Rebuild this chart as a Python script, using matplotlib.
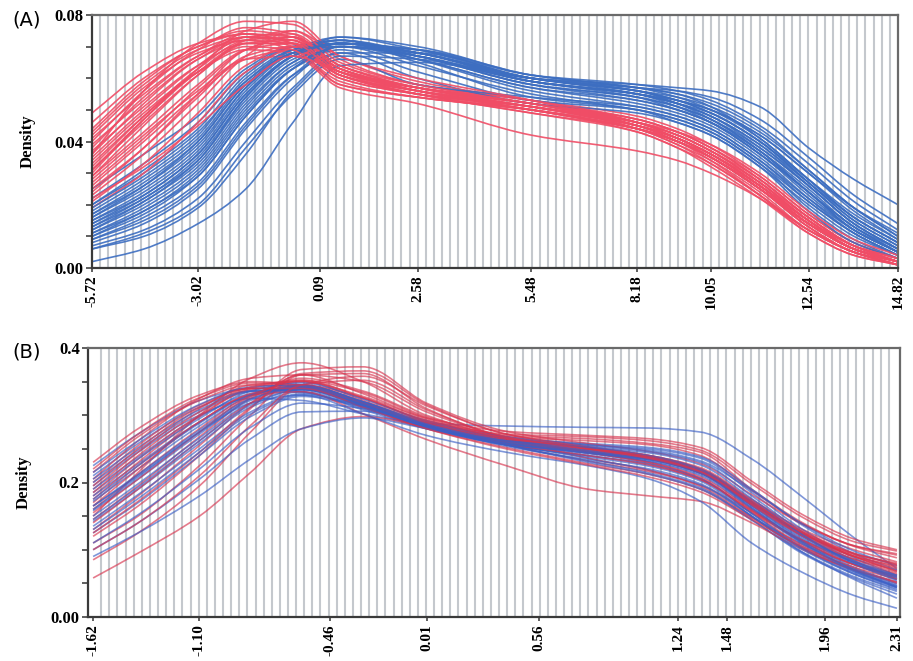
import numpy as np
import matplotlib
matplotlib.use("Agg")
import matplotlib.pyplot as plt
from matplotlib.path import Path
from matplotlib.patches import PathPatch
from matplotlib.ticker import FixedLocator

# ---- panel A data (density curves) ----
xA = [-5.72, -4.4, -3.02, -1.8, -0.6, 0.6, 2.58, 5.48, 8.18, 9.2, 10.05, 11.3, 12.54, 13.7, 14.82]

redA = [
    [0.036, 0.056, 0.071, 0.078, 0.077, 0.066, 0.058, 0.053, 0.046, 0.042, 0.037, 0.027, 0.015, 0.006, 0.002],
    [0.049, 0.062, 0.071, 0.074, 0.071, 0.061, 0.056, 0.052, 0.045, 0.041, 0.035, 0.025, 0.013, 0.005, 0.002],
    [0.046, 0.060, 0.070, 0.075, 0.073, 0.062, 0.057, 0.053, 0.046, 0.041, 0.036, 0.026, 0.014, 0.006, 0.002],
    [0.043, 0.058, 0.069, 0.073, 0.070, 0.060, 0.055, 0.051, 0.044, 0.039, 0.034, 0.024, 0.012, 0.005, 0.001],
    [0.041, 0.055, 0.067, 0.073, 0.072, 0.062, 0.057, 0.052, 0.047, 0.043, 0.038, 0.028, 0.016, 0.007, 0.003],
    [0.039, 0.053, 0.066, 0.072, 0.071, 0.061, 0.056, 0.051, 0.045, 0.041, 0.036, 0.026, 0.014, 0.006, 0.002],
    [0.037, 0.051, 0.064, 0.071, 0.071, 0.062, 0.057, 0.052, 0.046, 0.041, 0.036, 0.026, 0.014, 0.006, 0.002],
    [0.035, 0.050, 0.064, 0.073, 0.074, 0.064, 0.058, 0.053, 0.048, 0.044, 0.039, 0.029, 0.017, 0.008, 0.003],
    [0.033, 0.048, 0.062, 0.070, 0.069, 0.058, 0.054, 0.050, 0.044, 0.040, 0.035, 0.025, 0.013, 0.005, 0.002],
    [0.031, 0.046, 0.061, 0.071, 0.072, 0.062, 0.056, 0.051, 0.046, 0.042, 0.037, 0.028, 0.016, 0.007, 0.002],
    [0.029, 0.043, 0.058, 0.069, 0.071, 0.063, 0.057, 0.052, 0.047, 0.043, 0.038, 0.029, 0.017, 0.008, 0.003],
    [0.027, 0.041, 0.057, 0.069, 0.073, 0.064, 0.057, 0.051, 0.045, 0.041, 0.036, 0.026, 0.015, 0.006, 0.002],
    [0.025, 0.038, 0.054, 0.067, 0.070, 0.061, 0.055, 0.049, 0.043, 0.038, 0.033, 0.023, 0.012, 0.005, 0.001],
    [0.023, 0.036, 0.052, 0.067, 0.075, 0.067, 0.059, 0.053, 0.047, 0.043, 0.038, 0.028, 0.016, 0.007, 0.002],
    [0.021, 0.033, 0.049, 0.064, 0.070, 0.063, 0.056, 0.050, 0.044, 0.040, 0.035, 0.025, 0.014, 0.006, 0.002],
    [0.030, 0.047, 0.063, 0.075, 0.078, 0.067, 0.060, 0.053, 0.045, 0.040, 0.034, 0.023, 0.011, 0.004, 0.001],
    [0.040, 0.056, 0.069, 0.076, 0.074, 0.063, 0.057, 0.052, 0.044, 0.039, 0.033, 0.023, 0.012, 0.005, 0.001],
    [0.034, 0.049, 0.062, 0.069, 0.068, 0.058, 0.054, 0.050, 0.045, 0.041, 0.036, 0.027, 0.015, 0.007, 0.003],
    [0.028, 0.042, 0.056, 0.066, 0.067, 0.057, 0.052, 0.042, 0.037, 0.034, 0.030, 0.022, 0.012, 0.005, 0.001],
    [0.026, 0.040, 0.055, 0.066, 0.069, 0.061, 0.055, 0.049, 0.044, 0.040, 0.035, 0.026, 0.015, 0.007, 0.003],
    [0.019, 0.030, 0.046, 0.062, 0.069, 0.062, 0.056, 0.050, 0.044, 0.040, 0.035, 0.025, 0.014, 0.006, 0.002],
    [0.044, 0.059, 0.070, 0.074, 0.071, 0.060, 0.055, 0.051, 0.045, 0.040, 0.035, 0.025, 0.013, 0.005, 0.001],
    [0.038, 0.054, 0.067, 0.074, 0.073, 0.063, 0.057, 0.052, 0.046, 0.042, 0.037, 0.027, 0.015, 0.006, 0.002],
    [0.032, 0.048, 0.063, 0.072, 0.073, 0.063, 0.056, 0.051, 0.045, 0.041, 0.036, 0.026, 0.014, 0.006, 0.002],
    [0.029, 0.045, 0.061, 0.072, 0.075, 0.065, 0.058, 0.052, 0.046, 0.042, 0.037, 0.027, 0.016, 0.007, 0.002],
    [0.024, 0.038, 0.055, 0.069, 0.073, 0.064, 0.057, 0.051, 0.045, 0.041, 0.036, 0.026, 0.015, 0.006, 0.002],
    [0.036, 0.052, 0.066, 0.073, 0.072, 0.062, 0.055, 0.050, 0.043, 0.038, 0.032, 0.022, 0.011, 0.004, 0.001],
    [0.042, 0.057, 0.068, 0.072, 0.069, 0.059, 0.054, 0.050, 0.044, 0.040, 0.035, 0.025, 0.014, 0.006, 0.002],
    [0.031, 0.047, 0.062, 0.071, 0.071, 0.061, 0.055, 0.051, 0.046, 0.043, 0.039, 0.030, 0.018, 0.009, 0.004],
    [0.022, 0.032, 0.045, 0.058, 0.067, 0.062, 0.056, 0.050, 0.044, 0.040, 0.035, 0.025, 0.014, 0.006, 0.002],
]

blueA = [
    [0.025, 0.036, 0.048, 0.063, 0.070, 0.070, 0.064, 0.055, 0.050, 0.047, 0.043, 0.033, 0.021, 0.011, 0.004],
    [0.022, 0.033, 0.046, 0.062, 0.070, 0.071, 0.067, 0.059, 0.054, 0.050, 0.046, 0.036, 0.024, 0.013, 0.005],
    [0.020, 0.031, 0.044, 0.061, 0.070, 0.072, 0.068, 0.060, 0.055, 0.051, 0.046, 0.036, 0.023, 0.012, 0.005],
    [0.018, 0.028, 0.041, 0.059, 0.069, 0.072, 0.066, 0.056, 0.051, 0.048, 0.044, 0.034, 0.021, 0.011, 0.004],
    [0.017, 0.026, 0.039, 0.057, 0.068, 0.071, 0.067, 0.058, 0.054, 0.051, 0.047, 0.038, 0.026, 0.014, 0.006],
    [0.016, 0.025, 0.038, 0.057, 0.069, 0.073, 0.069, 0.060, 0.056, 0.053, 0.049, 0.040, 0.027, 0.015, 0.007],
    [0.015, 0.023, 0.036, 0.055, 0.067, 0.071, 0.068, 0.059, 0.055, 0.052, 0.048, 0.039, 0.027, 0.016, 0.008],
    [0.014, 0.022, 0.035, 0.054, 0.067, 0.072, 0.065, 0.054, 0.050, 0.046, 0.042, 0.032, 0.020, 0.010, 0.004],
    [0.013, 0.021, 0.034, 0.053, 0.066, 0.071, 0.068, 0.060, 0.056, 0.053, 0.050, 0.042, 0.030, 0.018, 0.009],
    [0.012, 0.020, 0.032, 0.051, 0.065, 0.071, 0.068, 0.059, 0.055, 0.052, 0.048, 0.039, 0.026, 0.014, 0.006],
    [0.011, 0.018, 0.030, 0.049, 0.063, 0.069, 0.062, 0.053, 0.050, 0.047, 0.043, 0.033, 0.019, 0.009, 0.003],
    [0.010, 0.017, 0.029, 0.048, 0.063, 0.071, 0.069, 0.060, 0.056, 0.054, 0.051, 0.043, 0.031, 0.019, 0.010],
    [0.009, 0.016, 0.027, 0.046, 0.061, 0.068, 0.060, 0.052, 0.049, 0.046, 0.042, 0.032, 0.018, 0.008, 0.003],
    [0.008, 0.014, 0.025, 0.044, 0.060, 0.070, 0.069, 0.061, 0.057, 0.055, 0.052, 0.044, 0.031, 0.019, 0.010],
    [0.007, 0.012, 0.022, 0.040, 0.057, 0.068, 0.068, 0.060, 0.056, 0.053, 0.049, 0.040, 0.027, 0.015, 0.007],
    [0.006, 0.011, 0.020, 0.038, 0.055, 0.066, 0.058, 0.054, 0.051, 0.048, 0.044, 0.034, 0.022, 0.012, 0.005],
    [0.006, 0.010, 0.019, 0.036, 0.056, 0.067, 0.066, 0.059, 0.055, 0.052, 0.048, 0.038, 0.026, 0.014, 0.006],
    [0.002, 0.006, 0.014, 0.025, 0.046, 0.064, 0.065, 0.060, 0.057, 0.055, 0.051, 0.041, 0.028, 0.016, 0.008],
    [0.020, 0.030, 0.043, 0.059, 0.068, 0.070, 0.067, 0.060, 0.058, 0.057, 0.056, 0.051, 0.038, 0.028, 0.020],
    [0.016, 0.026, 0.040, 0.058, 0.068, 0.071, 0.068, 0.060, 0.057, 0.056, 0.054, 0.047, 0.035, 0.023, 0.014],
    [0.012, 0.021, 0.033, 0.052, 0.065, 0.071, 0.069, 0.061, 0.058, 0.056, 0.053, 0.045, 0.033, 0.021, 0.012],
    [0.019, 0.029, 0.042, 0.060, 0.069, 0.071, 0.066, 0.057, 0.052, 0.049, 0.045, 0.035, 0.022, 0.011, 0.004],
    [0.015, 0.024, 0.037, 0.056, 0.068, 0.072, 0.067, 0.058, 0.053, 0.050, 0.046, 0.037, 0.025, 0.013, 0.006],
    [0.013, 0.022, 0.034, 0.054, 0.067, 0.073, 0.070, 0.061, 0.057, 0.054, 0.050, 0.041, 0.028, 0.016, 0.008],
    [0.011, 0.019, 0.031, 0.050, 0.064, 0.070, 0.066, 0.057, 0.053, 0.050, 0.046, 0.036, 0.024, 0.012, 0.005],
    [0.009, 0.015, 0.026, 0.045, 0.061, 0.070, 0.067, 0.058, 0.054, 0.051, 0.047, 0.037, 0.024, 0.013, 0.005],
    [0.014, 0.023, 0.036, 0.055, 0.067, 0.071, 0.067, 0.059, 0.055, 0.053, 0.050, 0.042, 0.030, 0.019, 0.011],
    [0.017, 0.027, 0.040, 0.058, 0.068, 0.071, 0.068, 0.060, 0.056, 0.052, 0.047, 0.037, 0.024, 0.012, 0.005],
    [0.010, 0.018, 0.029, 0.048, 0.063, 0.070, 0.068, 0.059, 0.055, 0.052, 0.049, 0.040, 0.028, 0.017, 0.009],
]

xA_ticks = [-5.72, -3.02, 0.09, 2.58, 5.48, 8.18, 10.05, 12.54, 14.82]
yA_ticks = [0.00, 0.04, 0.08]
yA_labels = ["0.00", "0.04", "0.08"]

# ---- panel B data ----
xB = [-1.62, -1.40, -1.10, -0.85, -0.60, -0.30, 0.01, 0.40, 0.80, 1.10, 1.35, 1.60, 1.85, 2.10, 2.31]

redB = [
    [0.150, 0.215, 0.300, 0.355, 0.378, 0.350, 0.300, 0.270, 0.265, 0.258, 0.245, 0.190, 0.140, 0.105, 0.088],
    [0.230, 0.280, 0.330, 0.350, 0.345, 0.318, 0.288, 0.265, 0.252, 0.240, 0.222, 0.175, 0.130, 0.100, 0.082],
    [0.215, 0.268, 0.322, 0.345, 0.342, 0.315, 0.284, 0.256, 0.232, 0.216, 0.196, 0.155, 0.114, 0.086, 0.070],
    [0.200, 0.255, 0.315, 0.340, 0.340, 0.312, 0.280, 0.252, 0.228, 0.212, 0.190, 0.148, 0.108, 0.078, 0.062],
    [0.190, 0.245, 0.310, 0.345, 0.350, 0.322, 0.290, 0.268, 0.262, 0.256, 0.240, 0.188, 0.138, 0.106, 0.094],
    [0.180, 0.235, 0.300, 0.340, 0.350, 0.325, 0.292, 0.272, 0.268, 0.262, 0.248, 0.198, 0.148, 0.112, 0.098],
    [0.170, 0.225, 0.290, 0.332, 0.345, 0.320, 0.288, 0.264, 0.250, 0.238, 0.216, 0.170, 0.124, 0.090, 0.068],
    [0.160, 0.212, 0.280, 0.330, 0.350, 0.328, 0.294, 0.264, 0.246, 0.230, 0.206, 0.156, 0.106, 0.072, 0.052],
    [0.145, 0.195, 0.268, 0.325, 0.355, 0.336, 0.298, 0.268, 0.252, 0.240, 0.220, 0.174, 0.128, 0.095, 0.078],
    [0.130, 0.180, 0.255, 0.318, 0.360, 0.350, 0.305, 0.266, 0.236, 0.218, 0.194, 0.148, 0.102, 0.070, 0.050],
    [0.120, 0.165, 0.240, 0.310, 0.368, 0.372, 0.318, 0.276, 0.258, 0.246, 0.228, 0.182, 0.138, 0.106, 0.092],
    [0.110, 0.150, 0.225, 0.300, 0.360, 0.362, 0.310, 0.266, 0.245, 0.228, 0.205, 0.158, 0.112, 0.078, 0.058],
    [0.085, 0.125, 0.195, 0.275, 0.345, 0.358, 0.314, 0.272, 0.254, 0.240, 0.220, 0.172, 0.124, 0.090, 0.068],
    [0.165, 0.220, 0.290, 0.330, 0.335, 0.302, 0.264, 0.225, 0.190, 0.180, 0.172, 0.140, 0.100, 0.070, 0.052],
    [0.058, 0.095, 0.150, 0.215, 0.280, 0.298, 0.282, 0.260, 0.244, 0.230, 0.208, 0.160, 0.112, 0.078, 0.060],
    [0.205, 0.262, 0.325, 0.355, 0.360, 0.332, 0.296, 0.276, 0.270, 0.265, 0.252, 0.202, 0.152, 0.116, 0.100],
    [0.175, 0.230, 0.298, 0.338, 0.345, 0.318, 0.284, 0.258, 0.240, 0.226, 0.204, 0.158, 0.114, 0.082, 0.064],
    [0.140, 0.190, 0.262, 0.318, 0.345, 0.326, 0.290, 0.262, 0.247, 0.235, 0.214, 0.168, 0.124, 0.092, 0.074],
    [0.220, 0.272, 0.326, 0.348, 0.344, 0.318, 0.288, 0.262, 0.248, 0.238, 0.218, 0.172, 0.126, 0.094, 0.078],
    [0.185, 0.240, 0.305, 0.342, 0.352, 0.326, 0.292, 0.266, 0.250, 0.238, 0.218, 0.170, 0.124, 0.090, 0.072],
    [0.155, 0.205, 0.275, 0.328, 0.352, 0.334, 0.296, 0.266, 0.250, 0.236, 0.214, 0.166, 0.120, 0.086, 0.066],
    [0.125, 0.172, 0.245, 0.312, 0.362, 0.366, 0.316, 0.272, 0.252, 0.238, 0.216, 0.168, 0.122, 0.090, 0.076],
    [0.195, 0.250, 0.312, 0.340, 0.340, 0.312, 0.280, 0.250, 0.226, 0.208, 0.186, 0.145, 0.104, 0.074, 0.056],
    [0.100, 0.140, 0.210, 0.285, 0.345, 0.352, 0.308, 0.268, 0.250, 0.236, 0.216, 0.170, 0.126, 0.094, 0.080],
]

blueB = [
    [0.195, 0.245, 0.300, 0.325, 0.322, 0.302, 0.288, 0.284, 0.282, 0.281, 0.275, 0.235, 0.178, 0.118, 0.072],
    [0.225, 0.272, 0.322, 0.340, 0.335, 0.310, 0.282, 0.260, 0.246, 0.234, 0.214, 0.166, 0.116, 0.078, 0.056],
    [0.210, 0.258, 0.312, 0.336, 0.334, 0.308, 0.280, 0.256, 0.240, 0.226, 0.204, 0.154, 0.104, 0.068, 0.046],
    [0.200, 0.248, 0.305, 0.335, 0.338, 0.314, 0.285, 0.264, 0.256, 0.250, 0.236, 0.185, 0.130, 0.088, 0.062],
    [0.190, 0.238, 0.298, 0.332, 0.340, 0.316, 0.286, 0.262, 0.249, 0.238, 0.218, 0.170, 0.120, 0.082, 0.060],
    [0.180, 0.228, 0.290, 0.330, 0.342, 0.318, 0.286, 0.258, 0.236, 0.218, 0.196, 0.150, 0.102, 0.066, 0.044],
    [0.172, 0.220, 0.284, 0.328, 0.344, 0.320, 0.288, 0.266, 0.258, 0.252, 0.238, 0.190, 0.136, 0.094, 0.070],
    [0.165, 0.212, 0.278, 0.325, 0.342, 0.318, 0.285, 0.256, 0.230, 0.212, 0.190, 0.144, 0.096, 0.060, 0.038],
    [0.158, 0.205, 0.272, 0.322, 0.340, 0.316, 0.284, 0.260, 0.246, 0.236, 0.216, 0.166, 0.114, 0.074, 0.050],
    [0.150, 0.198, 0.266, 0.318, 0.338, 0.316, 0.283, 0.256, 0.232, 0.214, 0.192, 0.145, 0.094, 0.058, 0.034],
    [0.142, 0.190, 0.258, 0.312, 0.335, 0.314, 0.282, 0.258, 0.244, 0.234, 0.214, 0.162, 0.110, 0.070, 0.044],
    [0.135, 0.182, 0.250, 0.305, 0.332, 0.313, 0.281, 0.256, 0.240, 0.228, 0.206, 0.154, 0.102, 0.064, 0.040],
    [0.125, 0.170, 0.240, 0.298, 0.328, 0.312, 0.282, 0.262, 0.254, 0.246, 0.230, 0.180, 0.126, 0.084, 0.056],
    [0.100, 0.140, 0.205, 0.265, 0.305, 0.306, 0.282, 0.258, 0.243, 0.231, 0.210, 0.160, 0.108, 0.068, 0.044],
    [0.165, 0.210, 0.275, 0.318, 0.330, 0.302, 0.270, 0.245, 0.225, 0.205, 0.172, 0.110, 0.066, 0.032, 0.013],
    [0.090, 0.125, 0.180, 0.235, 0.280, 0.296, 0.280, 0.256, 0.238, 0.224, 0.202, 0.150, 0.096, 0.056, 0.028],
    [0.215, 0.262, 0.316, 0.342, 0.345, 0.320, 0.290, 0.268, 0.256, 0.248, 0.232, 0.188, 0.138, 0.098, 0.076],
    [0.185, 0.235, 0.295, 0.336, 0.348, 0.324, 0.292, 0.266, 0.252, 0.240, 0.220, 0.172, 0.122, 0.084, 0.062],
    [0.205, 0.252, 0.308, 0.336, 0.338, 0.314, 0.284, 0.260, 0.246, 0.236, 0.216, 0.168, 0.118, 0.080, 0.058],
    [0.175, 0.225, 0.288, 0.330, 0.344, 0.320, 0.287, 0.262, 0.248, 0.238, 0.218, 0.170, 0.120, 0.082, 0.060],
    [0.160, 0.208, 0.275, 0.324, 0.342, 0.318, 0.285, 0.254, 0.234, 0.220, 0.198, 0.150, 0.100, 0.064, 0.042],
    [0.145, 0.193, 0.262, 0.315, 0.338, 0.316, 0.283, 0.258, 0.244, 0.234, 0.214, 0.164, 0.112, 0.072, 0.048],
    [0.130, 0.176, 0.245, 0.302, 0.330, 0.314, 0.283, 0.262, 0.252, 0.244, 0.226, 0.176, 0.122, 0.080, 0.054],
    [0.110, 0.152, 0.220, 0.282, 0.318, 0.310, 0.283, 0.258, 0.244, 0.232, 0.212, 0.162, 0.110, 0.070, 0.046],
]

xB_ticks = [-1.62, -1.10, -0.46, 0.01, 0.56, 1.24, 1.48, 1.96, 2.31]
yB_ticks = [0.00, 0.2, 0.4]
yB_labels = ["0.00", "0.2", "0.4"]

SERIF = "Liberation Serif"


def smooth_curve(ax, x, y, **kw):
    """Draw the points joined by a monotone cubic (PCHIP-style) Bezier path."""
    x = np.asarray(x, float)
    y = np.asarray(y, float)
    h = np.diff(x)
    d = np.diff(y) / h
    m = np.zeros_like(y)
    m[0], m[-1] = d[0], d[-1]
    for k in range(1, len(y) - 1):
        if d[k - 1] * d[k] > 0:
            w1 = 2 * h[k] + h[k - 1]
            w2 = h[k] + 2 * h[k - 1]
            m[k] = (w1 + w2) / (w1 / d[k - 1] + w2 / d[k])
    verts = [(x[0], y[0])]
    codes = [Path.MOVETO]
    for k in range(len(h)):
        verts += [(x[k] + h[k] / 3, y[k] + m[k] * h[k] / 3),
                  (x[k + 1] - h[k] / 3, y[k + 1] - m[k + 1] * h[k] / 3),
                  (x[k + 1], y[k + 1])]
        codes += [Path.CURVE4] * 3
    ax.add_patch(PathPatch(Path(verts, codes), fill=False, **kw))


def style_axis(ax, xlim, ylim, xticks, yticks, ylabels, yminor, n_bins=100):
    ax.set_xlim(*xlim)
    ax.set_ylim(*ylim)
    # background vertical bin lines
    ax.xaxis.set_minor_locator(FixedLocator(np.linspace(xticks[0], xticks[-1], n_bins)))
    ax.grid(which="minor", axis="x", color="#c4c8cd", linewidth=1.5, zorder=0)
    ax.set_axisbelow(True)
    ax.set_xticks(xticks)
    ax.set_xticklabels([f"{t:.2f}" for t in xticks], rotation=90,
                       fontfamily=SERIF, fontweight="bold", fontsize=11)
    ax.set_yticks(yticks)
    ax.set_yticklabels(ylabels, fontfamily=SERIF, fontweight="bold", fontsize=12)
    ax.yaxis.set_minor_locator(FixedLocator(yminor))
    ax.tick_params(axis="x", which="minor", length=0)
    ax.tick_params(axis="x", which="major", length=3, width=1.2, color="#444", pad=2)
    ax.tick_params(axis="y", which="both", length=4, width=1.2, color="#444", pad=2)
    for side, sp in ax.spines.items():
        sp.set_linewidth(1.6)
        sp.set_color("#3a3a3a" if side in ("left", "bottom") else "#6a6a6a")
    ax.set_ylabel("Density", fontfamily=SERIF, fontweight="bold", fontsize=12, labelpad=14)


fig = plt.figure(figsize=(9.13, 6.61), dpi=100)

axA = fig.add_axes([92 / 913, 1 - 268 / 661, 806 / 913, 253 / 661])
for k in range(max(len(redA), len(blueA))):
    if k < len(blueA):
        smooth_curve(axA, xA, blueA[k], edgecolor="#3d6ec1", lw=1.2, alpha=0.9, zorder=2)
    if k < len(redA):
        smooth_curve(axA, xA, redA[k], edgecolor="#f04d66", lw=1.2, alpha=0.9, zorder=2)
style_axis(axA, (-5.72, 14.82), (0, 0.08), xA_ticks, yA_ticks, yA_labels,
           [0.01, 0.02, 0.03, 0.05, 0.06, 0.07])
fig.text(12 / 913, 1 - 20 / 661, "(A)", fontsize=14, va="center", ha="left",
         fontfamily="DejaVu Sans")

axB = fig.add_axes([88 / 913, 1 - 617 / 661, 812 / 913, 269 / 661])
for k in range(max(len(redB), len(blueB))):
    if k < len(redB):
        smooth_curve(axB, xB, redB[k], edgecolor="#d8354f", lw=1.2, alpha=0.65, zorder=2)
    if k < len(blueB):
        smooth_curve(axB, xB, blueB[k], edgecolor="#3b5fc6", lw=1.2, alpha=0.65, zorder=2)
style_axis(axB, (-1.645, 2.325), (0, 0.4), xB_ticks, yB_ticks, yB_labels,
           [0.05, 0.1, 0.15, 0.25, 0.3, 0.35])
fig.text(12 / 913, 1 - 352 / 661, "(B)", fontsize=14, va="center", ha="left",
         fontfamily="DejaVu Sans")

fig.savefig("out.png", dpi=100)
